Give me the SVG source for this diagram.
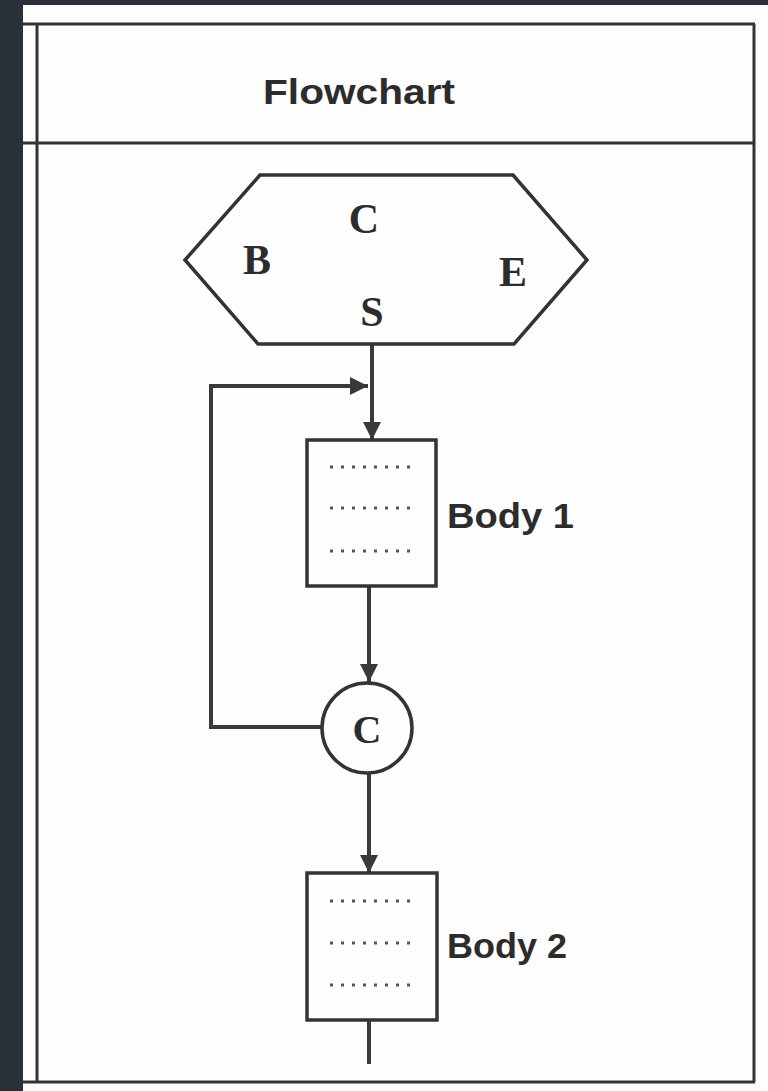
<svg xmlns="http://www.w3.org/2000/svg" width="768" height="1091" viewBox="0 0 768 1091">
<style>
.frame{stroke:#333;stroke-width:3;fill:none}
.ln{stroke:#3a3a3a;stroke-width:4;fill:none}
.shape{stroke:#333;stroke-width:3.5;fill:#fdfefd}
.serif{font-family:"Liberation Serif","Times New Roman",serif;font-weight:bold;fill:#2c2c2c;text-anchor:middle}
.sans{font-family:"Liberation Sans",Arial,sans-serif;font-weight:bold;fill:#2c2c2c}
.dots{stroke:#555;stroke-width:3;stroke-dasharray:3 8;fill:none}
</style>
<defs>
<marker id="ah" viewBox="0 0 10 10" refX="10" refY="5" markerWidth="4.5" markerHeight="4.5" orient="auto" markerUnits="strokeWidth">
<path d="M0,0 L10,5 L0,10 z" fill="#3a3a3a"/>
</marker>
</defs>
<rect x="0" y="0" width="768" height="1091" fill="#2a303a"/>
<rect x="23" y="5" width="745" height="1086" fill="#fcfdfc"/>
<g id="frame">
<line class="frame" x1="23" y1="24" x2="755" y2="24"/>
<line class="frame" x1="23" y1="143" x2="755" y2="143"/>
<line class="frame" x1="23" y1="1082" x2="755" y2="1082"/>
<line class="frame" x1="37" y1="24" x2="37" y2="1082"/>
<line class="frame" x1="754" y1="24" x2="754" y2="1082"/>
<text class="sans" x="263" y="104" font-size="35" textLength="192" lengthAdjust="spacingAndGlyphs">Flowchart</text>
</g>
<g id="connectors">
<line class="ln" x1="372" y1="344" x2="372" y2="440" marker-end="url(#ah)"/>
<line class="ln" x1="369" y1="586" x2="369" y2="682" marker-end="url(#ah)"/>
<path class="ln" d="M322,727 L211,727 L211,386 L368,386" marker-end="url(#ah)"/>
<line class="ln" x1="369" y1="773" x2="369" y2="873" marker-end="url(#ah)"/>
<line class="ln" x1="369" y1="1020" x2="369" y2="1064"/>
</g>
<g id="hexagon">
<polygon class="shape" points="185,260 260,175 513,175 587,260 514,344 258,344"/>
<text class="serif" x="364" y="233" font-size="42">C</text>
<text class="serif" x="257" y="274" font-size="42">B</text>
<text class="serif" x="513" y="286" font-size="42">E</text>
<text class="serif" x="372" y="326" font-size="42">S</text>
</g>
<g id="body1">
<rect class="shape" x="307" y="440" width="129" height="146"/>
<line class="dots" x1="330" y1="467" x2="412" y2="467"/>
<line class="dots" x1="330" y1="508" x2="412" y2="508"/>
<line class="dots" x1="330" y1="551" x2="412" y2="551"/>
<text class="sans" x="447" y="528" font-size="35" textLength="127" lengthAdjust="spacingAndGlyphs">Body 1</text>
</g>
<g id="cond">
<circle class="shape" cx="367" cy="728" r="45"/>
<text class="serif" x="367" y="743" font-size="40">C</text>
</g>
<g id="body2">
<rect class="shape" x="307" y="873" width="130" height="147"/>
<line class="dots" x1="330" y1="901" x2="412" y2="901"/>
<line class="dots" x1="330" y1="943" x2="412" y2="943"/>
<line class="dots" x1="330" y1="985" x2="412" y2="985"/>
<text class="sans" x="447" y="958" font-size="35" textLength="120" lengthAdjust="spacingAndGlyphs">Body 2</text>
</g>
</svg>
